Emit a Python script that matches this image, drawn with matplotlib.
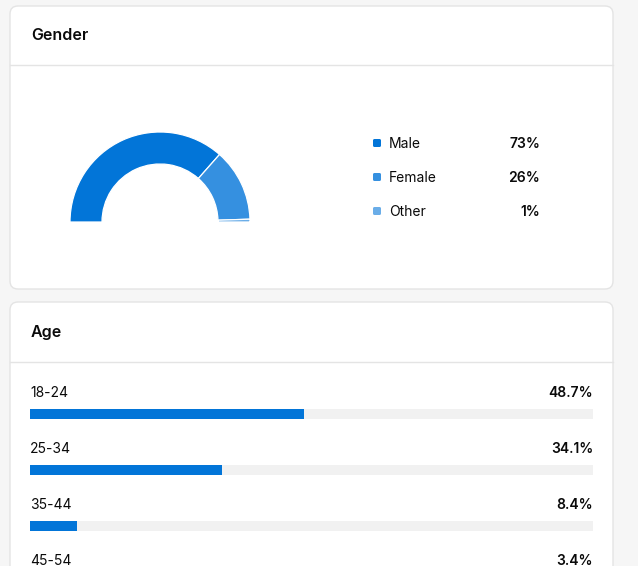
import matplotlib.pyplot as plt
from matplotlib.patches import FancyBboxPatch

plt.rcParams['font.family'] = ['Inter', 'DejaVu Sans']

# gender split (percent)
genders = ["Male", "Female", "Other"]
gender_pct = [73, 26, 1]
gender_colors = ["#0275d8", "#3590e0", "#6aade8"]

# age split (percent)
ages = ["18-24", "25-34", "35-44", "45-54"]
age_pct = [48.7, 34.1, 8.4, 3.4]

W, H = 638, 566
fig = plt.figure(figsize=(W / 100, H / 100), dpi=100)
fig.patch.set_facecolor("#f6f6f6")

# full-figure axes in pixel units for cards and text
base = fig.add_axes([0, 0, 1, 1])
base.set_xlim(0, W)
base.set_ylim(H, 0)
base.axis("off")


def card(y0, y1, head, head_y, line_y):
    box = FancyBboxPatch((10, y0), 603, y1 - y0,
                         boxstyle="round,pad=0,rounding_size=8",
                         fc="white", ec="#e4e4e4", lw=1)
    base.add_patch(box)
    base.plot([10, 613], [line_y, line_y], color="#e4e4e4", lw=1)
    base.text(31, head_y, head, fontsize=11.5, fontweight="semibold",
              color="#0a0a0a", va="center")


card(6, 289, "Gender", 36, 65)
card(302, 640, "Age", 333, 362)

# half donut
pax = fig.add_axes([70 / W, (H - 312) / H, 180 / W, 180 / H])
wedges, _ = pax.pie(gender_pct + [sum(gender_pct)],
                    colors=gender_colors + ["white"],
                    startangle=180, counterclock=False, radius=1,
                    wedgeprops=dict(width=32 / 90, edgecolor="white", linewidth=0.9))
wedges[-1].set_visible(False)
pax.set_xlim(-1, 1)
pax.set_ylim(-1, 1)
pax.set_aspect("equal")

# legend
for i, (g, p, c) in enumerate(zip(genders, gender_pct, gender_colors)):
    y = 143 + 34 * i
    base.add_patch(FancyBboxPatch((373, y - 4), 8, 8,
                                  boxstyle="round,pad=0,rounding_size=1.5",
                                  fc=c, ec="none"))
    base.text(389, y + 1, g, fontsize=10, color="#0a0a0a", va="center")
    base.text(540, y + 1, f"{p}%", fontsize=10, fontweight="semibold",
              color="#0a0a0a", va="center", ha="right")

# age bars
bax = fig.add_axes([30 / W, 0, (593 - 30) / W, (H - 362) / H])
bax.set_xlim(0, 100)
bax.set_ylim(H, 362)
bax.axis("off")
for i, (a, p) in enumerate(zip(ages, age_pct)):
    y = 414 + 56 * i
    bax.barh(y, 100, height=10, color="#f1f1f1", left=0)
    bax.barh(y, p, height=10, color="#0275d8", left=0)
    bax.text(0, y - 21, a, fontsize=10, color="#0a0a0a", va="center",
             clip_on=False)
    bax.text(100, y - 21, f"{p}%", fontsize=10, fontweight="semibold",
             color="#0a0a0a", va="center", ha="right", clip_on=False)

fig.savefig("out.png", dpi=100, facecolor=fig.get_facecolor())
